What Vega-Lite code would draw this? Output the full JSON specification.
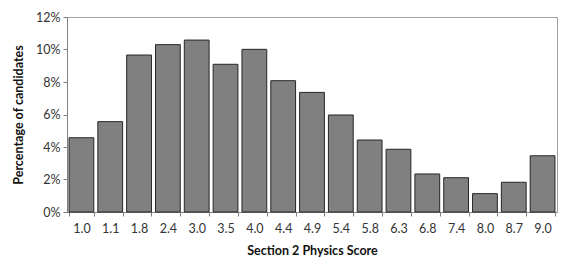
{
  "$schema": "https://vega.github.io/schema/vega-lite/v6.json",
  "autosize": "none",
  "padding": {"left": 67, "top": 17, "right": 20, "bottom": 59},
  "width": 490,
  "height": 195,
  "data": {"values": [
    {"score": "1.0", "pct": 0.0457},
    {"score": "1.1", "pct": 0.0556},
    {"score": "1.8", "pct": 0.0966},
    {"score": "2.4", "pct": 0.1030},
    {"score": "3.0", "pct": 0.1058},
    {"score": "3.5", "pct": 0.0909},
    {"score": "4.0", "pct": 0.1001},
    {"score": "4.4", "pct": 0.0808},
    {"score": "4.9", "pct": 0.0736},
    {"score": "5.4", "pct": 0.0597},
    {"score": "5.8", "pct": 0.0443},
    {"score": "6.3", "pct": 0.0386},
    {"score": "6.8", "pct": 0.0234},
    {"score": "7.4", "pct": 0.0211},
    {"score": "8.0", "pct": 0.0113},
    {"score": "8.7", "pct": 0.0183},
    {"score": "9.0", "pct": 0.0346}
  ]},
  "config": {
    "font": "Lato",
    "view": {"stroke": "#a0a0a0", "strokeWidth": 1},
    "axis": {"grid": false, "domainColor": "#808080", "tickColor": "#808080", "labelColor": "#333", "titleColor": "#111", "labelFontSize": 12.5, "titleFontSize": 12.5, "titleFontWeight": "bold"}
  },
  "mark": {"type": "bar", "fill": "#808080", "stroke": "#262626", "strokeWidth": 1},
  "encoding": {
    "x": {
      "field": "score", "type": "ordinal", "sort": null,
      "scale": {"paddingInner": 0.14, "paddingOuter": 0.07},
      "axis": {"title": "Section 2 Physics Score", "labelAngle": 0, "tickBand": "extent", "tickSize": 4, "labelPadding": 6, "titlePadding": 10}
    },
    "y": {
      "field": "pct", "type": "quantitative",
      "scale": {"domain": [0, 0.12]},
      "axis": {"title": "Percentage of candidates", "format": ".0%", "values": [0, 0.02, 0.04, 0.06, 0.08, 0.1, 0.12], "tickSize": 4, "labelPadding": 3, "titlePadding": 10}
    }
  }
}
